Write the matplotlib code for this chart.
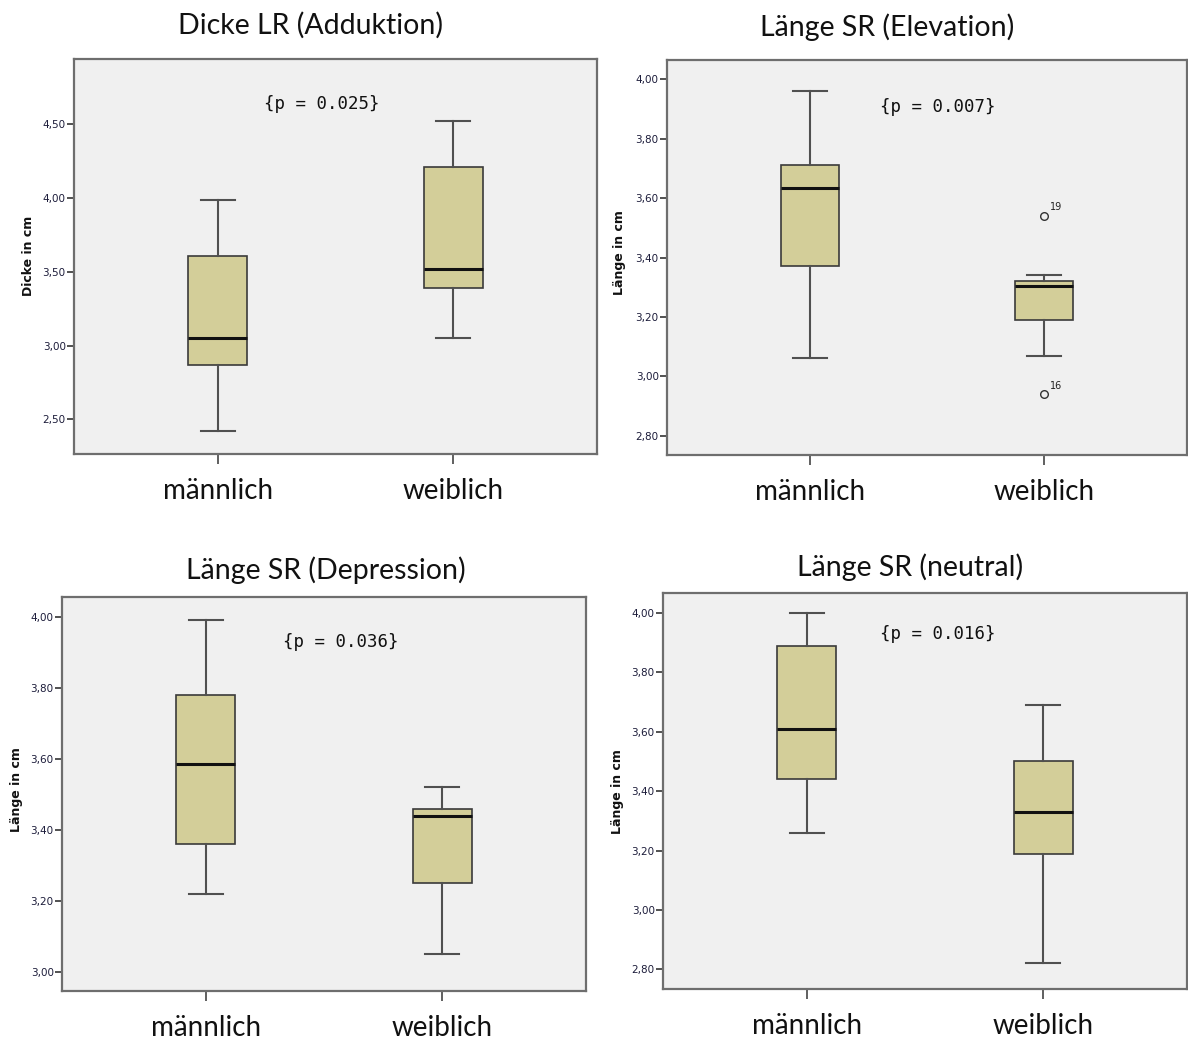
import matplotlib
matplotlib.use('Agg')
import matplotlib.pyplot as plt
from matplotlib.ticker import FixedLocator

# ---------------- data ----------------
groups = ['männlich', 'weiblich']
titles = ['Dicke LR (Adduktion)', 'Länge SR (Elevation)',
          'Länge SR (Depression)', 'Länge SR (neutral)']
ylabels = ['Dicke in cm', 'Länge in cm', 'Länge in cm', 'Länge in cm']
pvals = ['{p = 0.025}', '{p = 0.007}', '{p = 0.036}', '{p = 0.016}']

# five-number summaries: whisker low, Q1, median, Q3, whisker high
adduktion_m = [2.42, 2.87, 3.05, 3.61, 3.99]
adduktion_w = [3.05, 3.39, 3.52, 4.21, 4.52]
elevation_m = [3.06, 3.37, 3.635, 3.71, 3.96]
elevation_w = [3.07, 3.19, 3.305, 3.32, 3.34]
depression_m = [3.22, 3.36, 3.585, 3.78, 3.99]
depression_w = [3.05, 3.25, 3.44, 3.46, 3.52]
neutral_m = [3.26, 3.44, 3.61, 3.89, 4.00]
neutral_w = [2.82, 3.19, 3.33, 3.50, 3.69]

# outliers (value, case id)
elevation_w_outliers = [2.94, 3.54]
elevation_w_outlier_ids = ['16', '19']

yticks_1 = [2.50, 3.00, 3.50, 4.00, 4.50]
yticks_2 = [2.80, 3.00, 3.20, 3.40, 3.60, 3.80, 4.00]
yticks_3 = [3.00, 3.20, 3.40, 3.60, 3.80, 4.00]
yticks_4 = [2.80, 3.00, 3.20, 3.40, 3.60, 3.80, 4.00]

# ---------------- layout ----------------
W, H = 1188, 1044
fig = plt.figure(figsize=(W / 100, H / 100), dpi=100)

def px_rect(l, t, r, b):
    return [l / W, 1 - b / H, (r - l) / W, (b - t) / H]

def px(x, y):
    return x / W, 1 - y / H

panels = [
    dict(rect=px_rect(74, 59, 597, 454), ylim=(2.265, 4.943), yt=yticks_1,
         data=[adduktion_m, adduktion_w], fl=[[], []], ids=[[], []],
         title_xy=(310, 25), p_xy=(322, 104), yl_xy=(29, 256)),
    dict(rect=px_rect(667, 60, 1187, 455), ylim=(2.735, 4.065), yt=yticks_2,
         data=[elevation_m, elevation_w], fl=[[], elevation_w_outliers],
         ids=[[], elevation_w_outlier_ids],
         title_xy=(887, 27), p_xy=(938, 107), yl_xy=(619, 253)),
    dict(rect=px_rect(62, 597, 586, 991), ylim=(2.946, 4.056), yt=yticks_3,
         data=[depression_m, depression_w], fl=[[], []], ids=[[], []],
         title_xy=(326, 570), p_xy=(341, 642), yl_xy=(17, 790)),
    dict(rect=px_rect(663, 593, 1187, 989), ylim=(2.734, 4.067), yt=yticks_4,
         data=[neutral_m, neutral_w], fl=[[], []], ids=[[], []],
         title_xy=(910, 567), p_xy=(938, 634), yl_xy=(617, 792)),
]

title_font = ['Lato', 'DejaVu Sans']
box_fill = '#D3CE99'

for i, p in enumerate(panels):
    ax = fig.add_axes(p['rect'])
    ax.set_facecolor('#F0F0F0')
    stats = []
    for g, d, f in zip(groups, p['data'], p['fl']):
        stats.append(dict(label=g, whislo=d[0], q1=d[1], med=d[2], q3=d[3],
                          whishi=d[4], fliers=f))
    ax.bxp(stats, positions=[1, 2], widths=0.25, capwidths=0.145,
           patch_artist=True, showfliers=True,
           boxprops=dict(facecolor=box_fill, edgecolor='#3a3a3a', linewidth=1.2),
           medianprops=dict(color='#111111', linewidth=2.2),
           whiskerprops=dict(color='#505050', linewidth=1.5),
           capprops=dict(color='#505050', linewidth=1.5),
           flierprops=dict(marker='o', markerfacecolor='none',
                           markeredgecolor='#333333', markersize=5.5,
                           markeredgewidth=1.0))
    # outlier case labels
    for v, lab in zip(p['fl'][1], p['ids'][1]):
        ax.annotate(lab, (2, v), xytext=(4, 4), textcoords='offset points',
                    fontsize=7, color='#222222', family='DejaVu Sans')
    ax.set_xlim(0.39, 2.61)
    ax.set_ylim(*p['ylim'])
    ax.yaxis.set_major_locator(FixedLocator(p['yt']))
    ax.set_yticklabels([f'{v:.2f}'.replace('.', ',') for v in p['yt']],
                       fontsize=7.5, color='#1c1c3a', family='DejaVu Sans')
    ax.tick_params(axis='y', length=5, width=1.2, color='#333333', pad=1)
    ax.set_xticks([1, 2])
    ax.set_xticklabels(groups, fontsize=20, family=title_font, color='#111111')
    ax.tick_params(axis='x', length=7, width=1.2, color='#444444', pad=10)
    for s in ax.spines.values():
        s.set_color('#6e6e6e')
        s.set_linewidth(1.6)
    fig.text(*px(*p['title_xy']), titles[i], ha='center', va='center',
             fontsize=20.5, family=title_font, color='#111111')
    fig.text(*px(*p['p_xy']), pvals[i], ha='center', va='center',
             fontsize=12.5, family='DejaVu Sans Mono', color='#111111')
    fig.text(*px(*p['yl_xy']), ylabels[i], ha='center', va='center',
             rotation=90, fontsize=9, fontweight='bold',
             family='DejaVu Sans', color='#111111')

fig.savefig('out.png', dpi=100, facecolor='white')
